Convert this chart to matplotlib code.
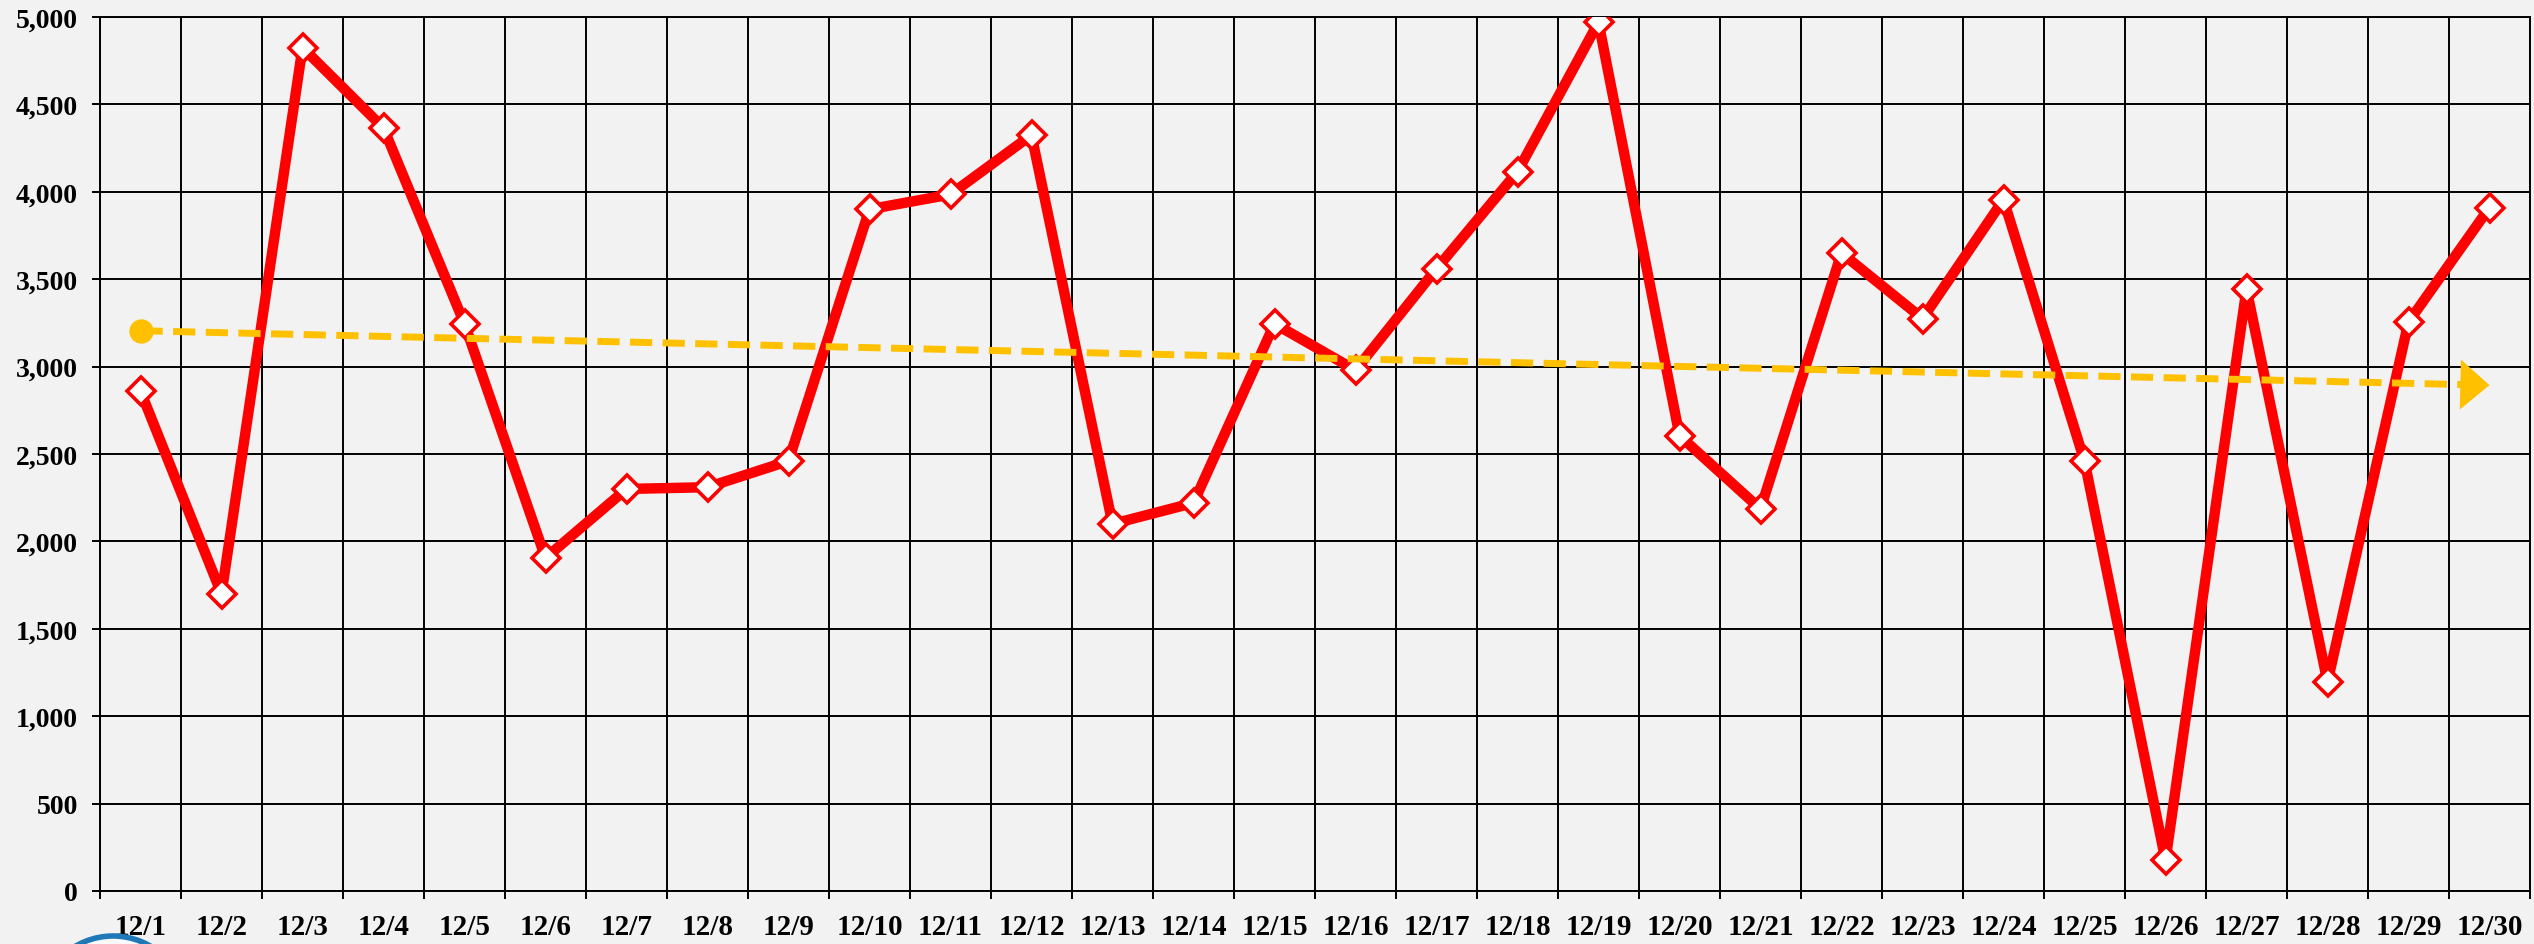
import numpy as np
import matplotlib
matplotlib.use('AGG')
import matplotlib.pyplot as plt
from matplotlib.patches import Ellipse
from matplotlib.ticker import FuncFormatter, MultipleLocator

# daily values, 12/1 .. 12/30
days = ['12/%d' % d for d in range(1, 31)]
values = [2860, 1700, 4825, 4365, 3245, 1905, 2300, 2310, 2460, 3900,
          3985, 4325, 2100, 2220, 3245, 2980, 3560, 4115, 4970, 2605,
          2185, 3650, 3275, 3955, 2460, 175, 3445, 1195, 3255, 3910]

bg = '#f2f2f2'
red = '#ff0000'
gold = '#ffc000'

plt.rcParams['font.family'] = ['Liberation Serif', 'DejaVu Serif']
plt.rcParams['font.weight'] = 'bold'

fig = plt.figure(figsize=(25.34, 9.45), dpi=100, facecolor=bg)
ax = fig.add_axes([100 / 2534, 53 / 945, 2430 / 2534, 874 / 945], facecolor=bg)

x = np.arange(len(days))
ax.plot(x, values, color=red, lw=7.5, marker='D', ms=14,
        mfc='white', mec=red, mew=2.6, zorder=3, solid_joinstyle='round')

# linear trend
k, b = np.polyfit(x, values, 1)
trend = k * x + b
x_end = x[-1] - 0.3
ax.plot(x[:-1].tolist() + [x_end], trend[:-1].tolist() + [k * x_end + b],
        color=gold, lw=5, dashes=(3.2, 1.5), zorder=4, solid_capstyle='butt')
ax.plot(x[0], trend[0], 'o', color=gold, ms=16.5, zorder=5)
ax.annotate('', xy=(x[-1], trend[-1]), xytext=(x[-1] - 0.4, k * (x[-1] - 0.4) + b),
            arrowprops=dict(arrowstyle='-|>,head_length=21,head_width=18',
                            mutation_scale=1, color=gold, lw=0, shrinkA=0, shrinkB=0),
            zorder=5)

ax.set_xlim(-0.5, len(days) - 0.5)
ax.set_ylim(0, 5000)
ax.set_xticks(x)
ax.set_xticklabels(days)
ax.set_xticks(np.arange(-0.5, len(days)), minor=True)
ax.yaxis.set_major_locator(MultipleLocator(500))
ax.yaxis.set_major_formatter(FuncFormatter(lambda v, p: '{:,.0f}'.format(v)))

ax.tick_params(axis='x', which='major', length=0, pad=16, labelsize=21)
ax.tick_params(axis='x', which='minor', length=6, width=1.4, direction='out')
ax.tick_params(axis='y', which='major', length=6, width=1.4, pad=10, labelsize=20)

ax.grid(True, axis='y', which='major', color='black', lw=1.4)
ax.grid(True, axis='x', which='minor', color='black', lw=1.4)
ax.set_axisbelow(True)
for s in ax.spines.values():
    s.set_color('black')
    s.set_linewidth(1.4)

# logo fragment at lower left
fig.add_artist(Ellipse((113 / 2534, -66 / 945), 148 / 2534, 148 / 945,
                       facecolor='#f7f9fb', edgecolor='#1f78b8', lw=4, clip_on=False))

fig.savefig('out.png', dpi=100, facecolor=bg)
